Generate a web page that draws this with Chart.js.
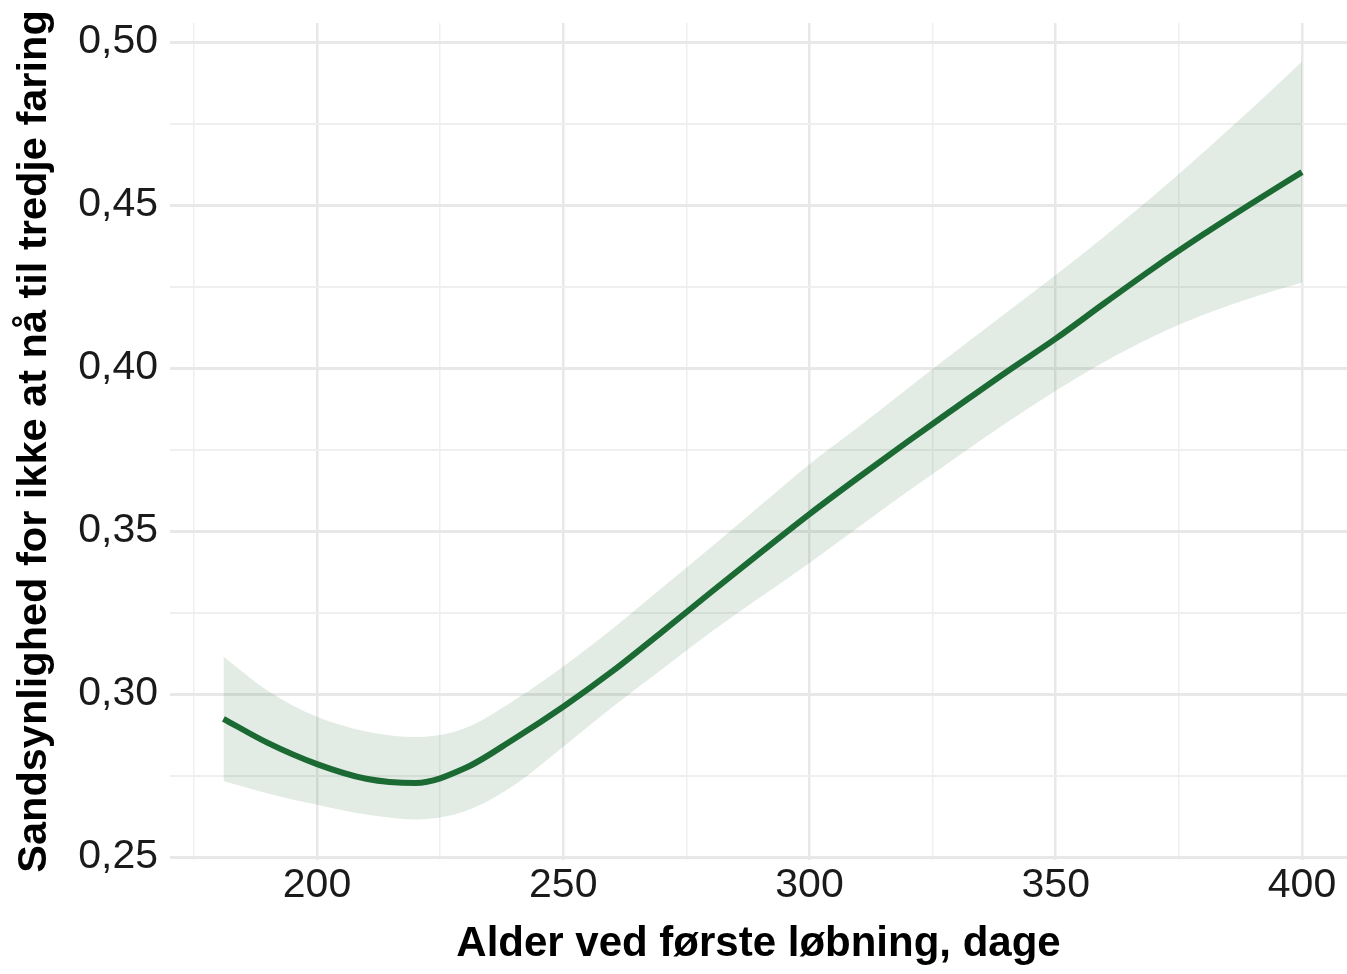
<!DOCTYPE html>
<html lang="da">
<head>
<meta charset="utf-8">
<title>Alder ved første løbning</title>
<script src="https://cdn.jsdelivr.net/npm/chart.js@4.4.1/dist/chart.umd.min.js"></script>
<style>
    html, body { margin: 0; padding: 0; background: #ffffff; }
    #wrap { width: 1347px; height: 974px; }
</style>
</head>
<body>
<div id="wrap"><canvas id="chart" width="1347" height="974"></canvas></div>
<script>
// alder ved første løbning (dage)
const ageDays = [181, 190, 200, 210, 220, 230, 240, 250, 260, 270, 280, 290, 300, 310, 320, 330, 340, 350, 360, 370, 380, 390, 400]
// estimeret sandsynlighed + konfidensbånd
const fitValues = [0.2924, 0.2850, 0.2785, 0.2740, 0.2727, 0.2772, 0.2862, 0.2961, 0.3070, 0.3190, 0.3312, 0.3433, 0.3552, 0.3665, 0.3775, 0.3882, 0.3988, 0.4090, 0.4200, 0.4308, 0.4410, 0.4507, 0.4601]
const upperValues = [0.3114, 0.3010, 0.2930, 0.2885, 0.2868, 0.2895, 0.2980, 0.3084, 0.3200, 0.3325, 0.3450, 0.3578, 0.3705, 0.3820, 0.3938, 0.4055, 0.4170, 0.4285, 0.4405, 0.4530, 0.4662, 0.4798, 0.4940]
const lowerValues = [0.2733, 0.2695, 0.2660, 0.2630, 0.2615, 0.2640, 0.2720, 0.2838, 0.2960, 0.3075, 0.3190, 0.3297, 0.3402, 0.3512, 0.3622, 0.3728, 0.3832, 0.3930, 0.4020, 0.4098, 0.4163, 0.4216, 0.4262]

const xTickValues = [175, 200, 225, 250, 275, 300, 325, 350, 375, 400]
const yTickValues = [0.25, 0.275, 0.30, 0.325, 0.35, 0.375, 0.40, 0.425, 0.45, 0.475, 0.50]

const FONT = "'Liberation Sans', Arial, Helvetica, sans-serif"
const GREEN = "#1c6a33"

function toPoints(values) {
    return ageDays.map((x, i) => ({ x, y: values[i] }))
}

function isMajorX(v) { return v % 50 === 0 }
function isMajorY(v) { return Math.round(v * 1000) % 50 === 0 }

new Chart(document.getElementById("chart"), {
    type: "line",
    data: {
        datasets: [
            {
                label: "upper",
                data: toPoints(upperValues),
                borderWidth: 0,
                pointRadius: 0,
                cubicInterpolationMode: "monotone",
                fill: "+1",
                backgroundColor: "rgba(28, 106, 51, 0.13)",
            },
            {
                label: "lower",
                data: toPoints(lowerValues),
                borderWidth: 0,
                pointRadius: 0,
                cubicInterpolationMode: "monotone",
                fill: false,
            },
            {
                label: "fit",
                data: toPoints(fitValues),
                borderColor: GREEN,
                borderWidth: 6,
                pointRadius: 0,
                cubicInterpolationMode: "monotone",
                fill: false,
                borderCapStyle: "butt",
            },
        ],
    },
    options: {
        responsive: false,
        animation: false,
        devicePixelRatio: 1,
        layout: {
            padding: { top: 23, right: 0, bottom: 0, left: 0 },
        },
        plugins: {
            legend: { display: false },
            tooltip: { enabled: false },
        },
        scales: {
            x: {
                type: "linear",
                min: 170.15,
                max: 409.14,
                border: { display: false },
                afterBuildTicks(scale) {
                    scale.ticks = xTickValues.map((value) => ({ value }))
                },
                afterFit(scale) {
                    scale.height = 114
                    scale.paddingLeft = 0
                    scale.paddingRight = 0
                },
                grid: {
                    drawTicks: false,
                    color: (ctx) => (ctx.tick && isMajorX(ctx.tick.value) ? "#e8e8e8" : "#efefef"),
                    lineWidth: (ctx) => (ctx.tick && isMajorX(ctx.tick.value) ? 2.5 : 1.5),
                },
                ticks: {
                    autoSkip: false,
                    maxRotation: 0,
                    padding: 1,
                    color: "#1a1a1a",
                    font: { family: FONT, size: 41 },
                    callback(value) {
                        return isMajorX(value) ? String(value) : ""
                    },
                },
                title: {
                    display: true,
                    text: "Alder ved første løbning, dage",
                    color: "#000000",
                    font: { family: FONT, size: 42, weight: "bold" },
                    padding: { top: 0, bottom: 4 },
                },
            },
            y: {
                type: "linear",
                min: 0.24908,
                max: 0.50583,
                border: { display: false },
                afterBuildTicks(scale) {
                    scale.ticks = yTickValues.map((value) => ({ value }))
                },
                afterFit(scale) {
                    scale.width = 170
                    scale.paddingTop = 0
                    scale.paddingBottom = 0
                },
                grid: {
                    drawTicks: false,
                    color: (ctx) => (ctx.tick && isMajorY(ctx.tick.value) ? "#e8e8e8" : "#efefef"),
                    lineWidth: (ctx) => (ctx.tick && isMajorY(ctx.tick.value) ? 3 : 2),
                },
                ticks: {
                    autoSkip: false,
                    padding: 12,
                    color: "#1a1a1a",
                    font: { family: FONT, size: 41 },
                    callback(value) {
                        return isMajorY(value) ? value.toFixed(2).replace(".", ",") : ""
                    },
                },
                title: {
                    display: true,
                    text: "Sandsynlighed for ikke at nå til tredje faring",
                    color: "#000000",
                    font: { family: FONT, size: 41.5, weight: "bold" },
                    padding: { top: 10, bottom: 0 },
                },
            },
        },
    },
})
</script>
</body>
</html>
